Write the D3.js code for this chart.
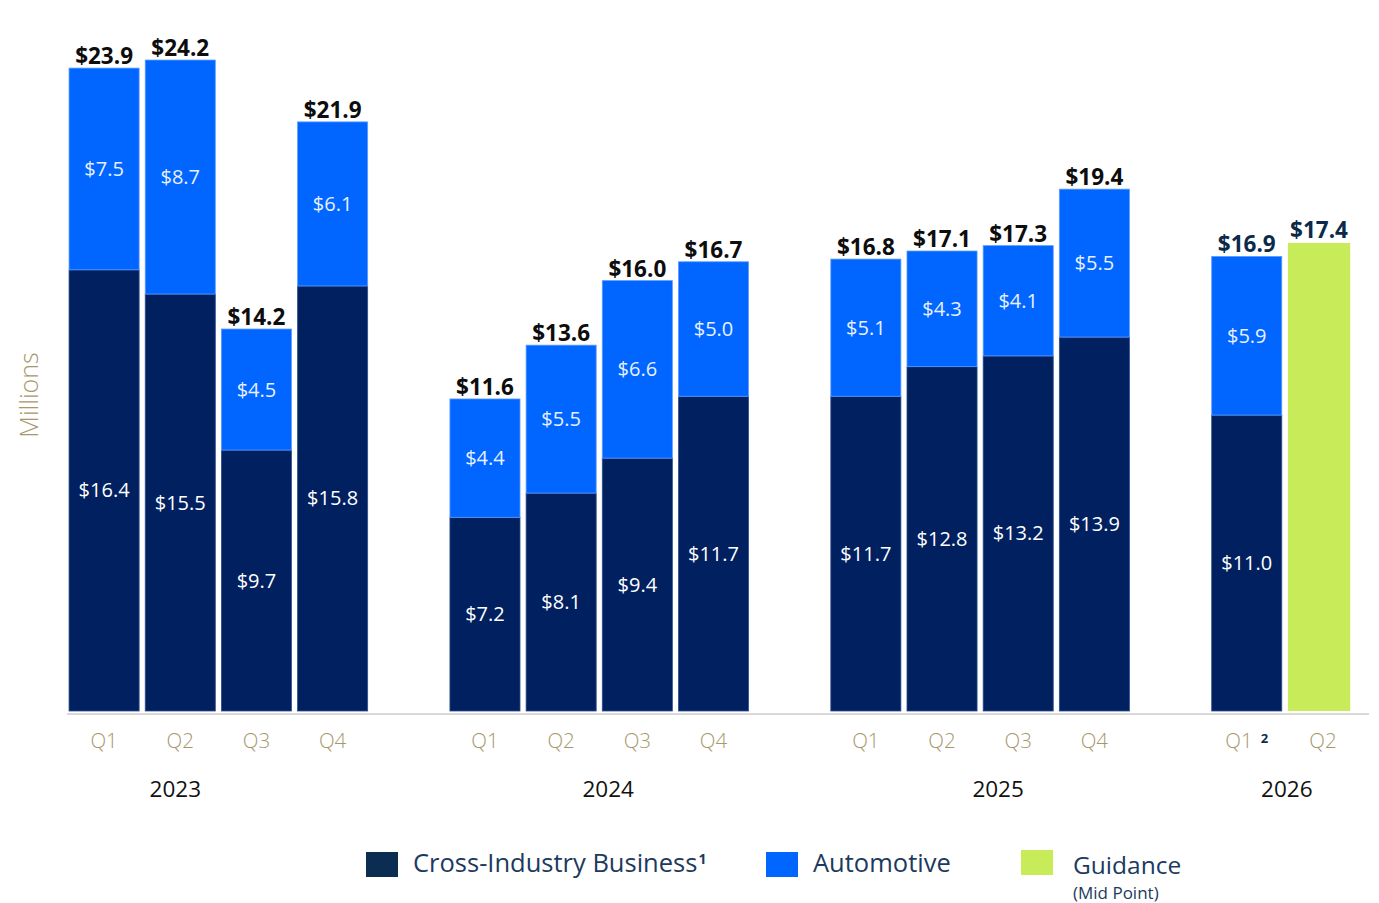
<!DOCTYPE html>
<html>
<head>
<meta charset="utf-8">
<script src="https://cdn.jsdelivr.net/npm/d3@7/dist/d3.min.js"></script>
<style>
  html, body { margin: 0; padding: 0; background: #fff; }
  svg { display: block; font-family: "Open Sans", "DejaVu Sans", sans-serif; }
</style>
</head>
<body>
<svg id="chart" width="1379" height="903"></svg>
<script>
// Quarterly revenue, $ millions
const years = ["2023", "2024", "2025", "2026"];
const quarters = [
  ["Q1", "Q2", "Q3", "Q4"],
  ["Q1", "Q2", "Q3", "Q4"],
  ["Q1", "Q2", "Q3", "Q4"],
  ["Q1", "Q2"]
];
const crossIndustry = [
  [16.4, 15.5, 9.7, 15.8],
  [7.2, 8.1, 9.4, 11.7],
  [11.7, 12.8, 13.2, 13.9],
  [11.0, null]
];
const automotive = [
  [7.5, 8.7, 4.5, 6.1],
  [4.4, 5.5, 6.6, 5.0],
  [5.1, 4.3, 4.1, 5.5],
  [5.9, null]
];
const guidance = [
  [null, null, null, null],
  [null, null, null, null],
  [null, null, null, null],
  [null, 17.4]
];
const quarterFootnotes = { "2026 Q1": "2" };
const legendItems = ["Cross-Industry Business", "Automotive", "Guidance"];

const C = {
  navy: "#012060",
  blue: "#0066ff",
  green: "#c8eb5a",
  gold: "#a8976c",
  legendNavy: "#0b2d52",
  legendText: "#1c3a5e",
  axis: "#d9d9d9"
};

// Flatten into slots; an empty slot separates each year
const rows = [];
const slots = [];
years.forEach((yr, gi) => {
  quarters[gi].forEach((q, qi) => {
    const key = yr + " " + q;
    slots.push(key);
    const c = crossIndustry[gi][qi], a = automotive[gi][qi], g = guidance[gi][qi];
    rows.push({ key, year: yr, q, cross: c, auto: a, guide: g,
      total: g != null ? g : +(c + a).toFixed(1) });
  });
  if (gi < years.length - 1) slots.push("gap-" + gi);
});

const svg = d3.select("#chart");
const y0 = 711;
const y = d3.scaleLinear().domain([0, 24.2]).range([y0, y0 - 24.2 * 26.9]);
const x = d3.scaleBand().domain(slots).range([66, 1361]).paddingInner(0.08).paddingOuter(0.04);
const bw = x.bandwidth();
const fmt = v => "$" + d3.format(".1f")(v);

// Baseline
svg.append("line")
  .attr("x1", 67).attr("x2", 1369)
  .attr("y1", y0 + 3).attr("y2", y0 + 3)
  .attr("stroke", C.axis).attr("stroke-width", 2);

const bars = svg.append("g");
rows.forEach(d => {
  const xl = x(d.key);
  if (d.guide != null) {
    const w = bw * 0.89;
    bars.append("rect").attr("x", xl).attr("width", w)
      .attr("y", y(d.guide)).attr("height", y(0) - y(d.guide))
      .attr("fill", C.green);
    bars.append("text").attr("x", xl + w / 2).attr("y", y(d.guide) - 5)
      .attr("text-anchor", "middle").attr("font-size", 22.5).attr("font-weight", 700)
      .attr("fill", "#0b2a4a").text(fmt(d.guide));
    return;
  }
  // Cross-industry segment
  bars.append("rect").attr("x", xl).attr("width", bw)
    .attr("y", y(d.cross)).attr("height", y(0) - y(d.cross))
    .attr("fill", C.navy).attr("stroke", "#2f4f8f").attr("stroke-width", 0.8);
  // Automotive segment
  bars.append("rect").attr("x", xl).attr("width", bw)
    .attr("y", y(d.cross + d.auto)).attr("height", y(d.cross) - y(d.cross + d.auto))
    .attr("fill", C.blue).attr("stroke", "#5e9cff").attr("stroke-width", 0.8);
  bars.append("text").attr("x", xl + bw / 2).attr("y", (y(0) + y(d.cross)) / 2)
    .attr("dy", "0.35em").attr("text-anchor", "middle").attr("font-size", 20)
    .attr("fill", "#ffffff").text(fmt(d.cross));
  bars.append("text").attr("x", xl + bw / 2).attr("y", (y(d.cross) + y(d.cross + d.auto)) / 2)
    .attr("dy", "0.35em").attr("text-anchor", "middle").attr("font-size", 20)
    .attr("fill", "#e8f0ff").text(fmt(d.auto));
  bars.append("text").attr("x", xl + bw / 2).attr("y", y(d.total) - 4)
    .attr("text-anchor", "middle").attr("font-size", 22.5).attr("font-weight", 700)
    .attr("fill", d.year === "2026" ? "#0b2a4a" : "#0d0d0d").text(fmt(d.total));
});

// Quarter tick labels
const ticks = svg.append("g");
rows.forEach(d => {
  const t = ticks.append("text").attr("x", x(d.key) + bw / 2).attr("y", 748)
    .attr("text-anchor", "middle").attr("font-size", 20.5).attr("font-weight", 300)
    .attr("fill", C.gold).text(d.q);
  const fn = quarterFootnotes[d.key];
  if (fn) {
    t.append("tspan").attr("dx", 8).attr("dy", -5).attr("font-size", 13)
      .attr("font-weight", 700).attr("fill", C.legendNavy).text(fn);
  }
});

// Year labels, centred under each group
const yearNudge = { "2023": -43, "2024": 9, "2025": 18, "2026": 2 };
years.forEach((yr, gi) => {
  const ks = quarters[gi].map(q => yr + " " + q);
  const cx = (x(ks[0]) + x(ks[ks.length - 1]) + bw) / 2;
  svg.append("text").attr("x", cx + yearNudge[yr]).attr("y", 797)
    .attr("text-anchor", "middle").attr("font-size", 22.5).attr("fill", "#111")
    .text(yr);
});

// Axis title
svg.append("text")
  .attr("transform", "translate(38,395) rotate(-90)")
  .attr("text-anchor", "middle").attr("font-size", 25).attr("font-weight", 300)
  .attr("fill", C.gold).text("Millions");

// Legend
const lg = svg.append("g");
const legendDefs = [
  { label: legendItems[0], color: C.legendNavy, sx: 366, sy: 852, tx: 413, sup: "1" },
  { label: legendItems[1], color: C.blue, sx: 766, sy: 852, tx: 813 },
  { label: legendItems[2], color: C.green, sx: 1021, sy: 850, tx: 1073, sub: "(Mid Point)" }
];
legendDefs.forEach(l => {
  lg.append("rect").attr("x", l.sx).attr("y", l.sy).attr("width", 32).attr("height", 25)
    .attr("fill", l.color);
  const t = lg.append("text").attr("x", l.tx).attr("y", l.sub ? 874 : 872)
    .attr("font-size", l.sub ? 24.5 : 25.5).attr("fill", C.legendText).text(l.label);
  if (l.sup) {
    t.append("tspan").attr("dx", 1).attr("dy", -8).attr("font-size", 14)
      .attr("font-weight", 700).text(l.sup);
  }
  if (l.sub) {
    lg.append("text").attr("x", l.tx).attr("y", 899).attr("font-size", 17)
      .attr("fill", C.legendText).text(l.sub);
  }
});
</script>
</body>
</html>
